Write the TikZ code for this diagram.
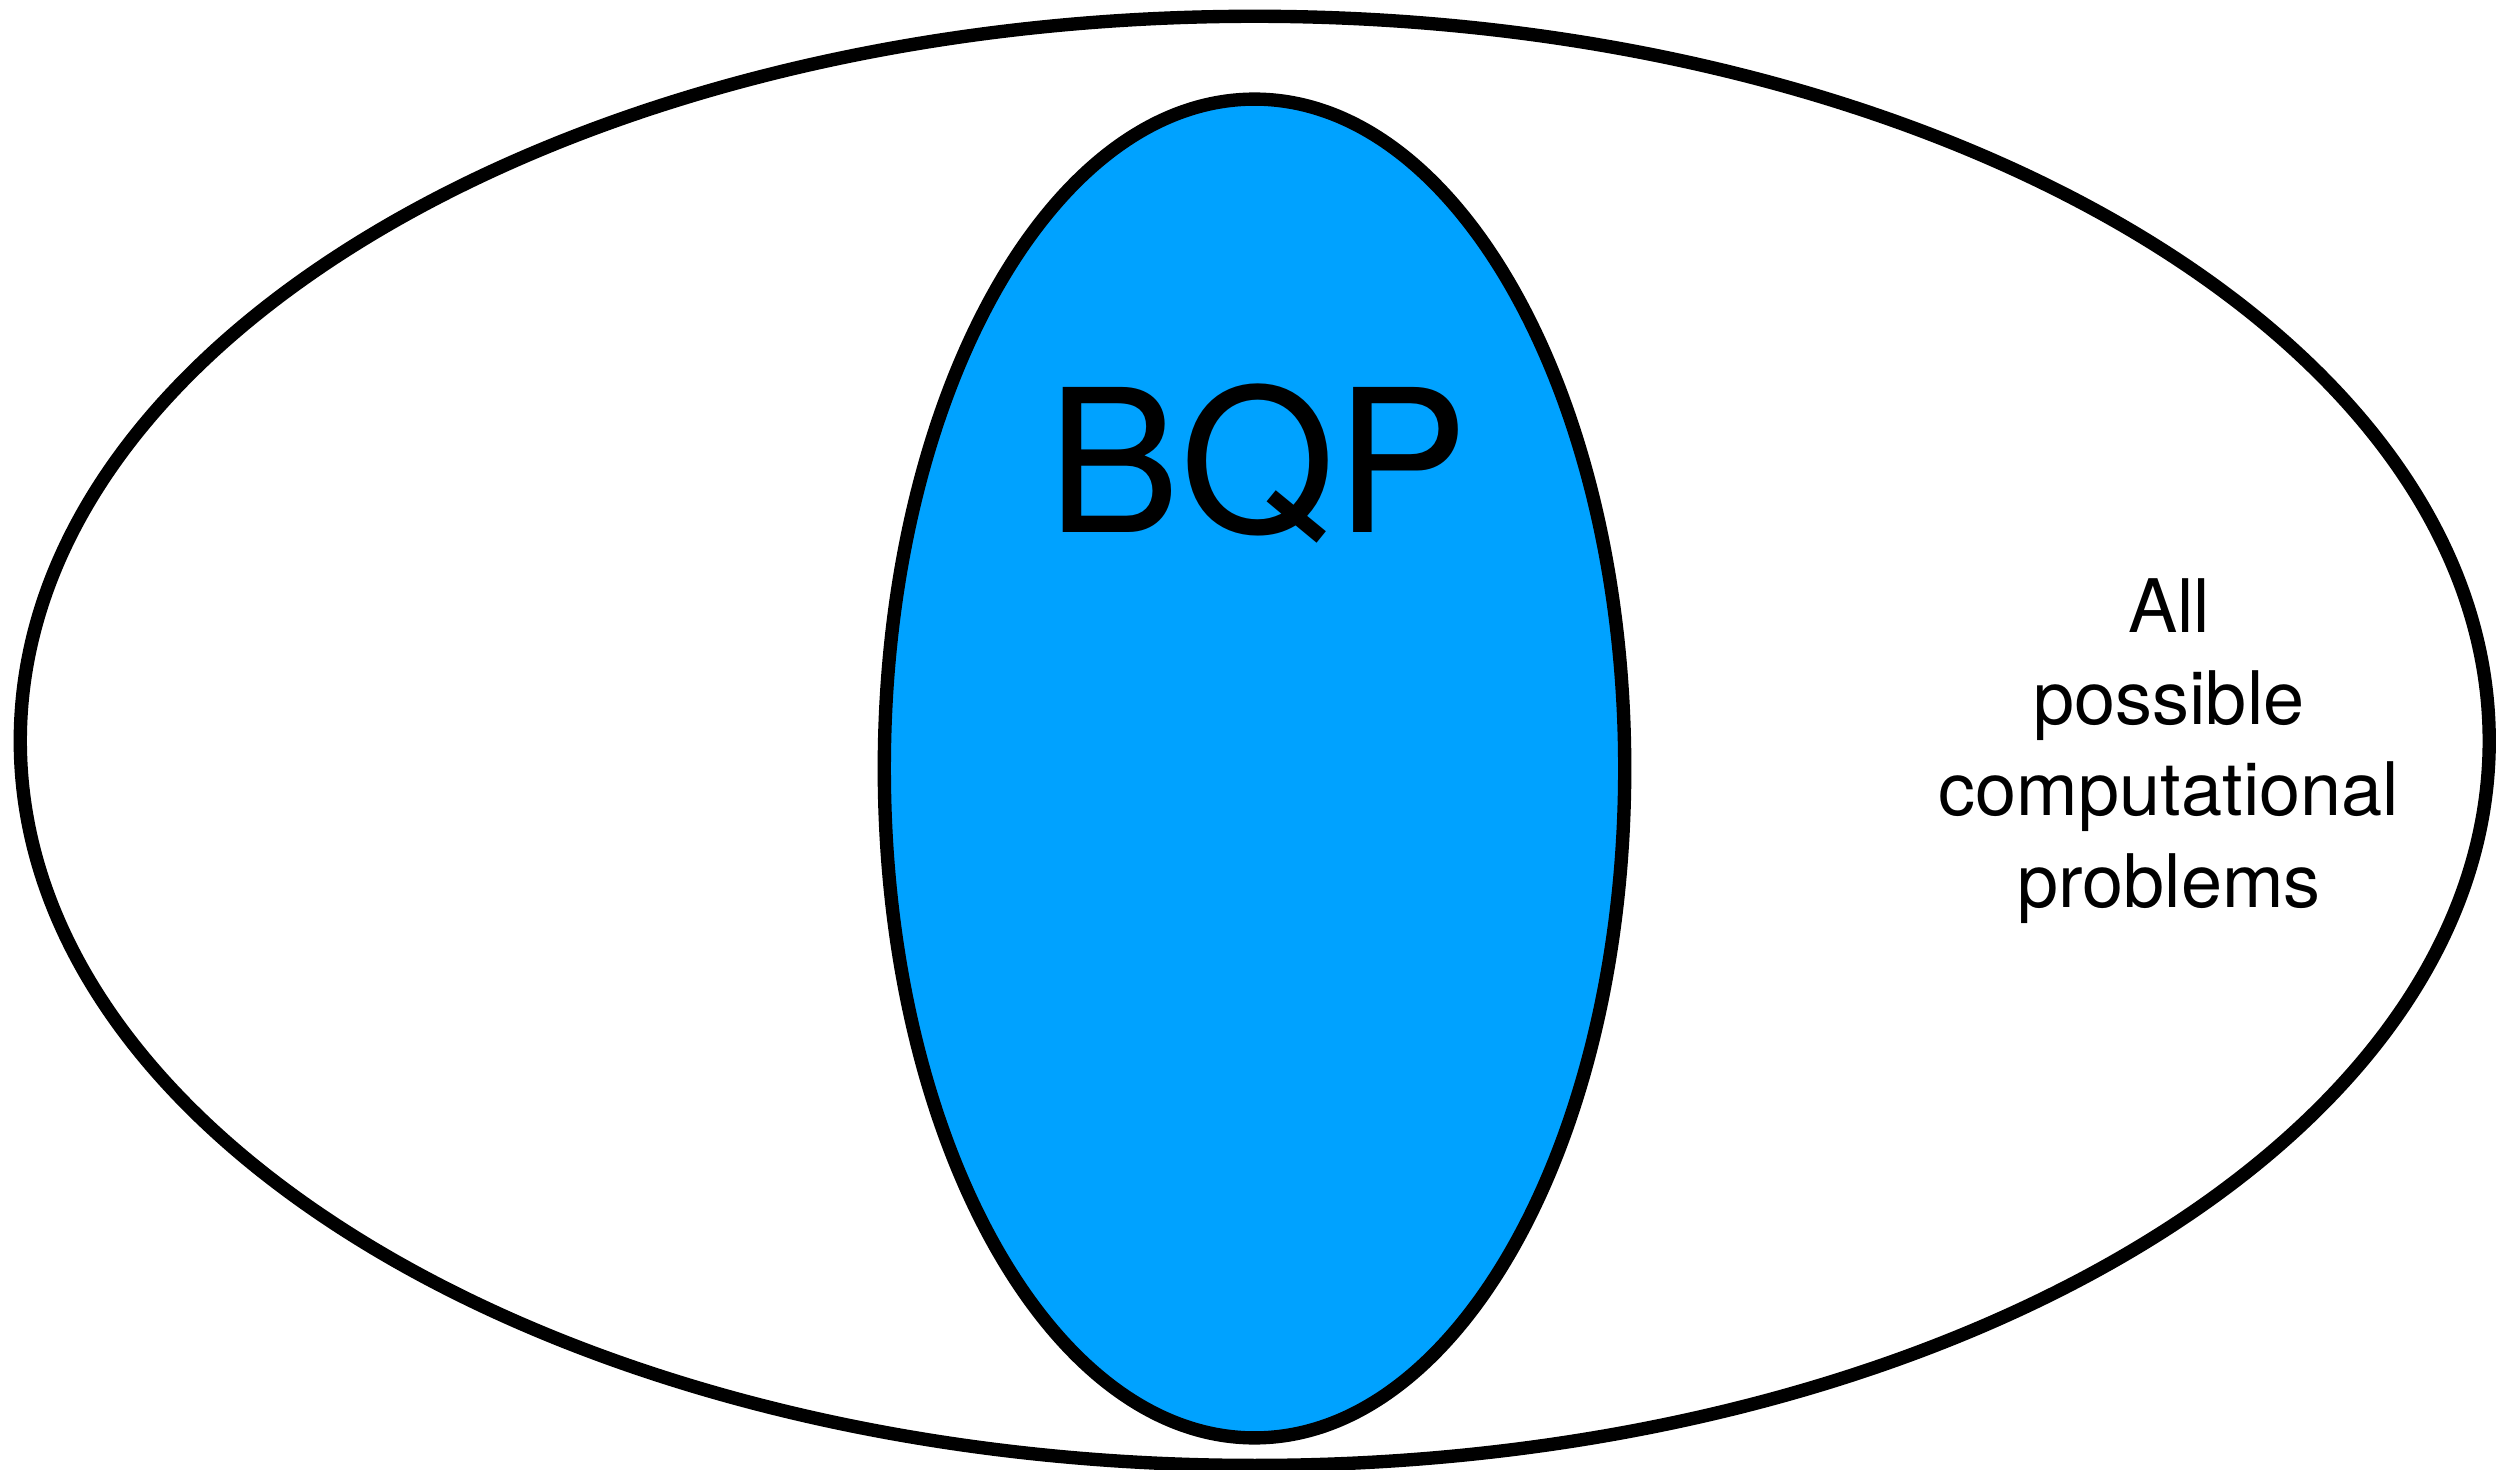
\documentclass[tikz,border=0pt]{standalone}
\usepackage{fontspec}
\setmainfont{TeX Gyre Heros}
\usepackage{tikz}
\usetikzlibrary{shapes.geometric, positioning}
\definecolor{bqpblue}{RGB}{0, 162, 255}
\tikzset{
    setline/.style = {draw=black, line width=3.8pt, outer sep=0pt},
    outerset/.style = {ellipse, setline, fill=white, minimum width=24.675cm, minimum height=14.483cm, inner sep=0pt},
    innerset/.style = {ellipse, setline, fill=bqpblue, minimum width=7.40cm, minimum height=13.38cm, inner sep=0pt},
    setlabel/.style = {font=\fontsize{56.6}{60}\selectfont, inner sep=0pt},
    sidelabel/.style = {font=\fontsize{21}{26}\selectfont, align=center, inner sep=0pt}
}

\begin{document}
\begin{tikzpicture}[x=0.01cm, y=-0.01cm]
\useasboundingbox (0,0) rectangle (2512,1470);
\node (all) [outerset] at (1254.75,740.85) {};
\node (bqp) [innerset] at (1254.5,768.5) {};
\node (bqplabel) [setlabel, anchor=base] at (1258,532) {BQP};
\node (alllabel) [sidelabel] at (2169,751) {All\\ possible\\ computational\\ problems};
\end{tikzpicture}
\end{document}
